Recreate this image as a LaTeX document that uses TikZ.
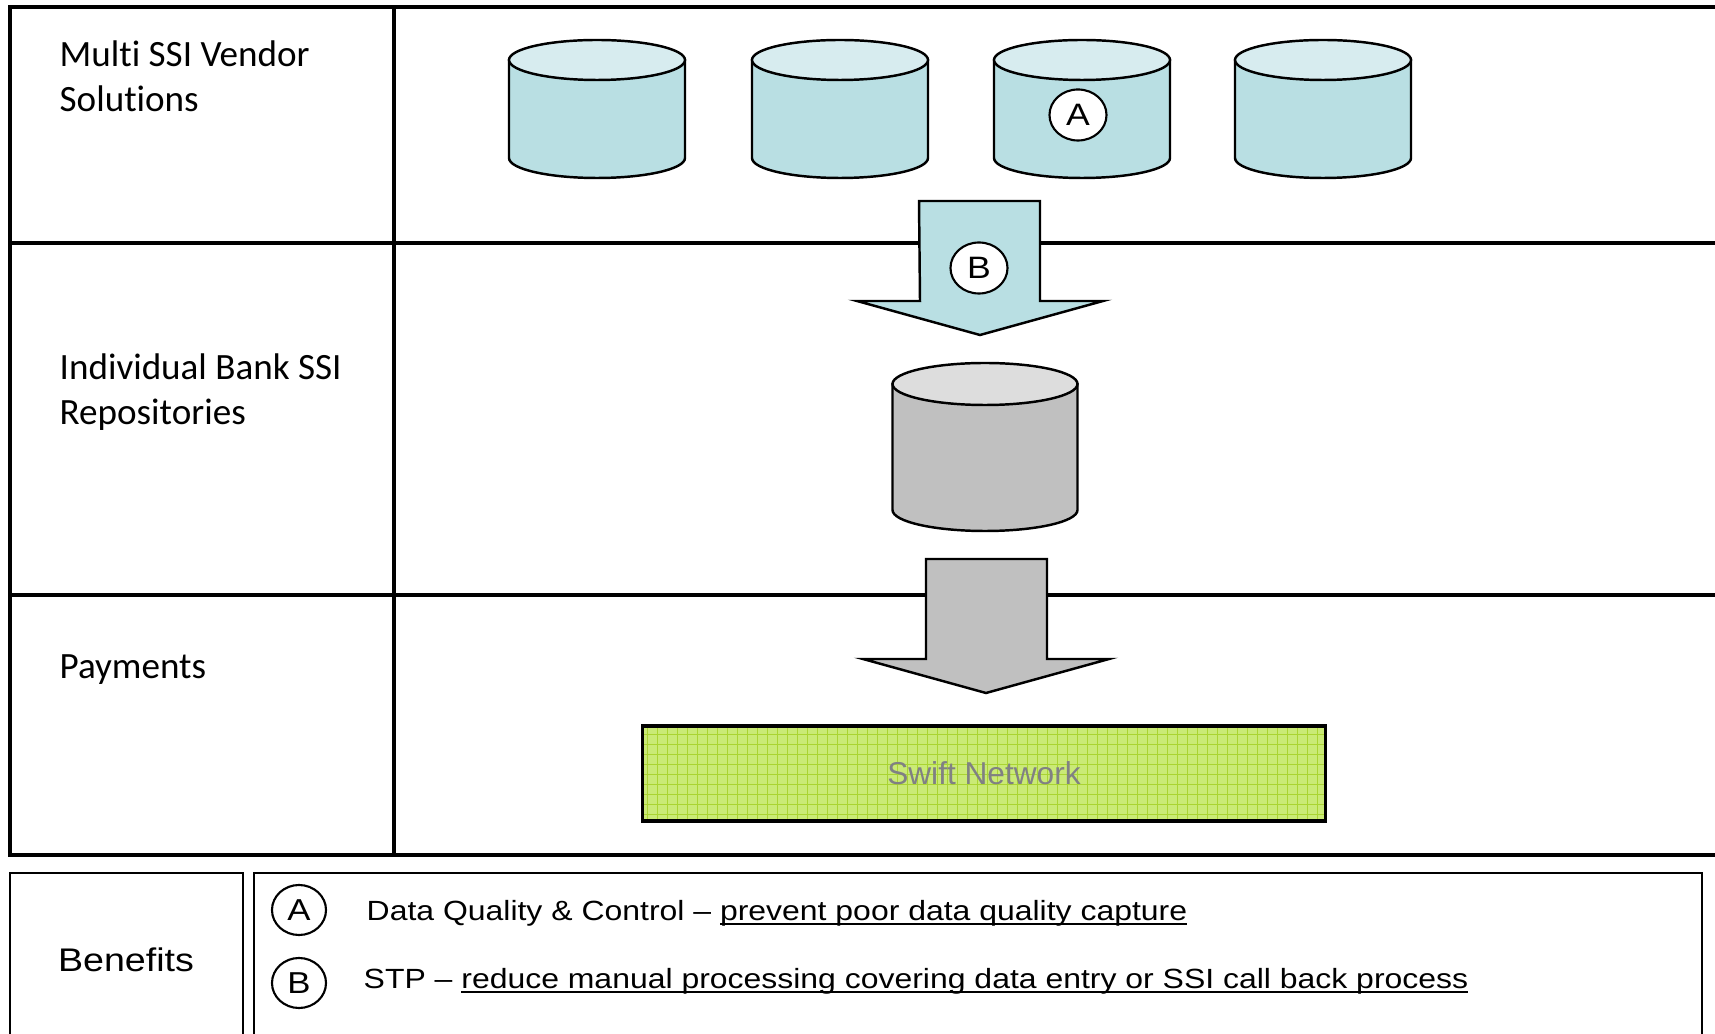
\documentclass[tikz,border=0pt]{standalone}
\usepackage{fontspec}
\setmainfont{Liberation Sans}
\newfontfamily\calibri[Ligatures=NoCommon]{Carlito}
\newfontfamily\widearial[FakeStretch=1.15]{Liberation Sans}
\usetikzlibrary{shapes.geometric}

\definecolor{cylblue}{RGB}{185,223,227}
\definecolor{cyltopblue}{RGB}{215,236,239}
\definecolor{cylgrey}{RGB}{192,192,192}
\definecolor{cyltopgrey}{RGB}{221,221,221}
\definecolor{swiftfill}{RGB}{202,234,118}
\definecolor{swiftline}{RGB}{170,212,50}
\definecolor{swifttext}{RGB}{128,128,132}

\newcommand{\lowline}[1]{\setbox0\hbox{#1}\rlap{\rule[-1.3pt]{\wd0}{0.45pt}}\box0}

\begin{document}
\begin{tikzpicture}[
    x=0.01cm, y=-0.01cm,
    tableline/.style={line width=0.9pt},
    benefitline/.style={line width=0.6pt},
    rowlabel/.style={anchor=west, align=left, inner sep=0, font=\calibri\fontsize{10.55}{12.9}\selectfont},
    pics/dbcyl/.style n args={5}{code={
        % #1 x radius, #2 half body, #3 y radius, #4 body, #5 top
        \coordinate (-center) at (0,0);
        \filldraw[fill=#4, line width=0.7pt] (-#1,-#2) -- (-#1,#2)
            arc[start angle=180, end angle=360, x radius=#1*0.01cm, y radius=#3*0.01cm]
            -- (#1,-#2) -- cycle;
        \filldraw[fill=#5, line width=0.7pt] (0,-#2) ellipse[x radius=#1*0.01cm, y radius=#3*0.01cm];
    }},
    bigarrow/.style={draw, line width=0.7pt},
    tagcircle/.style={ellipse, draw, fill=white, line width=0.6pt, inner sep=0,
        minimum width=0.57cm, minimum height=0.51cm, font=\widearial\fontsize{8.8}{10}\selectfont},
    keycircle/.style={ellipse, draw, line width=0.6pt, inner sep=0,
        minimum width=0.54cm, minimum height=0.5cm, font=\widearial\fontsize{8.6}{10}\selectfont},
    keytext/.style={anchor=base west, inner sep=0, font=\widearial\fontsize{7.9}{10}\selectfont},
    swiftbox/.style={rectangle, draw, line width=0.9pt, fill=swiftfill,
        minimum width=6.82cm, minimum height=0.95cm, text=swifttext,
        font=\fontsize{9}{11}\selectfont,
        path picture={\draw[swiftline, line width=0.3pt]
            (path picture bounding box.south west) grid[step=0.1cm]
            (path picture bounding box.north east);}}
]
\useasboundingbox (0,0) rectangle (1715,1034);
\clip (0,0) rectangle (1715,1034);

% Table
\draw[tableline] (1715,7) -- (10,7) -- (10,855) -- (1715,855);
\draw[tableline] (10,243) -- (1715,243);
\draw[tableline] (10,595) -- (1715,595);
\draw[tableline] (394,7) -- (394,855);

% Row labels
\node[rowlabel] (vendor) at (59,76) {Multi SSI Vendor\\Solutions};
\node[rowlabel] (bank) at (59,392) {Individual Bank SSI\\Repositories};
\node[rowlabel] (payments) at (59,670) {Payments};

% Vendor databases
\foreach \name/\xpos in {vendorA/597, vendorB/840, vendorC/1082, vendorD/1323}
    \pic (\name) at (\xpos,109) {dbcyl={88}{49}{20}{cylblue}{cyltopblue}};
\node[tagcircle] (tagA) at (1078,115) {A};

% Arrows
\coordinate (arrowB) at (980,201);
\draw[bigarrow, fill=cylblue] (arrowB) ++(-61,0) -- ++(121,0) -- ++(0,100) -- ++(63,0)
    -- ++(-123,34) -- ++(-123,-34) -- ++(63,0) -- cycle;
\node[tagcircle] (tagB) at (979,268) {B};

\pic (bankdb) at (985,447) {dbcyl={92.5}{63}{21}{cylgrey}{cyltopgrey}};

\coordinate (arrowPay) at (986,559);
\draw[bigarrow, fill=cylgrey] (arrowPay) ++(-60,0) -- ++(121,0) -- ++(0,100) -- ++(62,0)
    -- ++(-123,34) -- ++(-123,-34) -- ++(63,0) -- cycle;

\node[swiftbox] (swift) at (984,773.5) {Swift Network};

% Benefits
\draw[benefitline] (10,873) rectangle (243,1045);
\draw[benefitline] (254,873) rectangle (1702,1045);
\node[font=\widearial\fontsize{9.3}{11}\selectfont] (benefits) at (126,960) {Benefits};

\node[keycircle] (keyA) at (299,910) {A};
\node[keytext] (textA) at (366,920) {Data Quality \& Control – \lowline{prevent poor data quality capture}};
\node[keycircle] (keyB) at (299,983) {B};
\node[keytext] (textB) at (363,988) {STP – \lowline{reduce manual processing covering data entry or SSI call back process}};

\end{tikzpicture}
\end{document}
